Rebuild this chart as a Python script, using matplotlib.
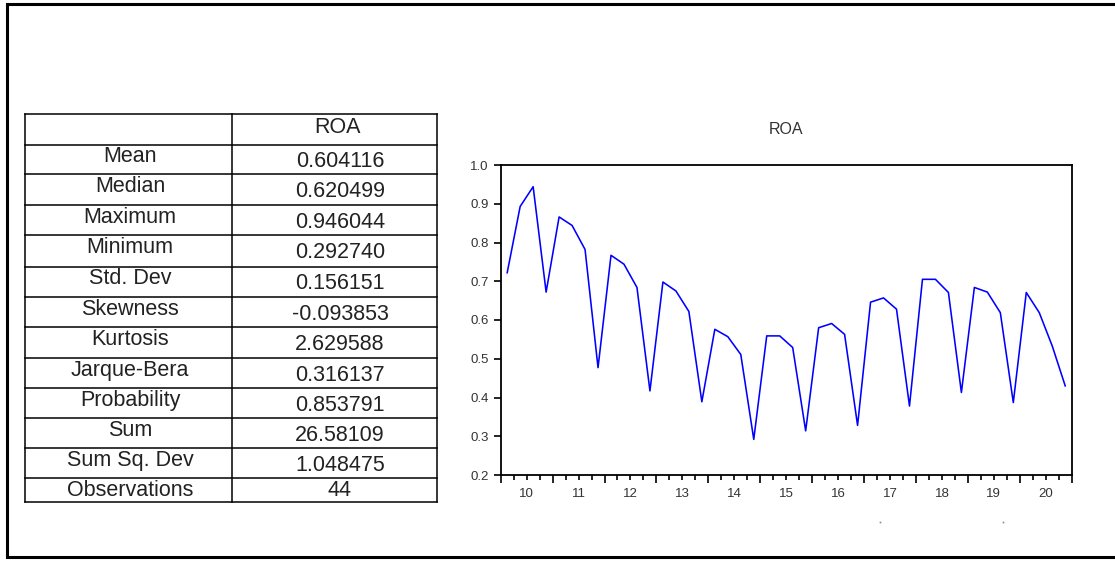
import matplotlib
matplotlib.use("Agg")
import matplotlib.pyplot as plt
import numpy as np

plt.rcParams['font.family'] = ['Liberation Sans', 'DejaVu Sans']

# ---------------- data ----------------
roa = [0.722, 0.893, 0.944, 0.672,
       0.866, 0.844, 0.782, 0.477,
       0.767, 0.744, 0.684, 0.417,
       0.698, 0.675, 0.622, 0.389,
       0.576, 0.557, 0.511, 0.292,
       0.559, 0.559, 0.529, 0.314,
       0.580, 0.591, 0.563, 0.328,
       0.646, 0.657, 0.628, 0.378,
       0.705, 0.705, 0.671, 0.413,
       0.684, 0.672, 0.619, 0.387,
       0.671, 0.619, 0.533, 0.430]
years = ['10', '11', '12', '13', '14', '15', '16', '17', '18', '19', '20']
y_ticks = [0.2, 0.3, 0.4, 0.5, 0.6, 0.7, 0.8, 0.9, 1.0]
series_name = 'ROA'
stat_names = ['Mean', 'Median', 'Maximum', 'Minimum', 'Std. Dev', 'Skewness',
              'Kurtosis', 'Jarque-Bera', 'Probability', 'Sum', 'Sum Sq. Dev',
              'Observations']
stat_values = ['0.604116', '0.620499', '0.946044', '0.292740', '0.156151',
               '-0.093853', '2.629588', '0.316137', '0.853791', '26.58109',
               '1.048475', '44']

# ---------------- figure ----------------
W, H = 1115, 561
fig = plt.figure(figsize=(W / 100, H / 100), dpi=100)
fig.patch.set_facecolor('white')

# overlay axes in pixel coordinates
over = fig.add_axes([0, 0, 1, 1])
over.set_xlim(0, W)
over.set_ylim(H, 0)
over.axis('off')

# outer frame (open on the right)
over.plot([W + 5, 6.5, 6.5, W + 5], [4, 4, 557, 557], color='black', lw=2.2,
          solid_joinstyle='miter', solid_capstyle='butt')

# table
col_x = [25, 232.3, 436.7]
row_y = [114, 145, 174.3, 205, 235, 266.7, 296.7, 327.3, 358.3, 388.3,
         418.3, 448.3, 478.3, 501.7]
for yy in row_y:
    over.plot([col_x[0], col_x[-1]], [yy, yy], color='black', lw=1.1,
              solid_capstyle='projecting')
for xx in col_x:
    over.plot([xx, xx], [row_y[0], row_y[-1]], color='black', lw=1.1,
              solid_capstyle='projecting')

tcol = '#222222'
fs = 15.5
over.text(337, 127, series_name, ha='center', va='center', fontsize=fs, color=tcol)
n = len(stat_names)
for i, (nm, val) in enumerate(zip(stat_names, stat_values)):
    yc = (row_y[i + 1] + row_y[i + 2]) / 2
    if i < n - 1:
        ly, vy = yc - 3, yc + 2
    else:
        ly, vy = yc, yc
    over.text(130, ly, nm, ha='center', va='center', fontsize=fs, color=tcol)
    over.text(340, vy, val, ha='center', va='center', fontsize=fs, color=tcol)

# chart title
over.text(785.5, 129.5, series_name, ha='center', va='center', fontsize=11.5,
          color='#333333')

# stray dots under the chart
over.plot([880, 1003], [522, 522], 's', ms=1.2, color='#888888', mew=0)

# ---------------- line chart ----------------
ax_l, ax_r, ax_t, ax_b = 500.7, 1071.7, 165.0, 475.0
ax = fig.add_axes([ax_l / W, (H - ax_b) / H, (ax_r - ax_l) / W, (ax_b - ax_t) / H])
x = np.arange(len(roa))
ax.plot(x, roa, color='#0000ff', lw=1.15)
ax.set_xlim(-0.5, len(roa) - 0.5)
ax.set_ylim(y_ticks[0], y_ticks[-1])

for sp in ax.spines.values():
    sp.set_linewidth(1.3)
    sp.set_color('black')

ax.set_yticks(y_ticks)
ax.set_yticklabels([f'{v:.1f}' for v in y_ticks])
ax.tick_params(axis='y', direction='out', length=5, width=1.2, labelsize=9.5,
               pad=3.5, labelcolor='#333333')

ax.set_xticks(np.arange(-0.5, len(roa), 4))
ax.set_xticks(np.arange(-0.5, len(roa), 1), minor=True)
ax.set_xticklabels([])
ax.tick_params(axis='x', which='major', direction='out', length=6, width=1.2)
ax.tick_params(axis='x', which='minor', direction='out', length=3.5, width=1.2)

for k, yr in enumerate(years):
    ax.text(4 * k + 1.5, -0.061, yr, transform=ax.get_xaxis_transform(),
            ha='center', va='center', fontsize=9.5, color='#333333')

fig.savefig('out.png', dpi=100, facecolor='white')
